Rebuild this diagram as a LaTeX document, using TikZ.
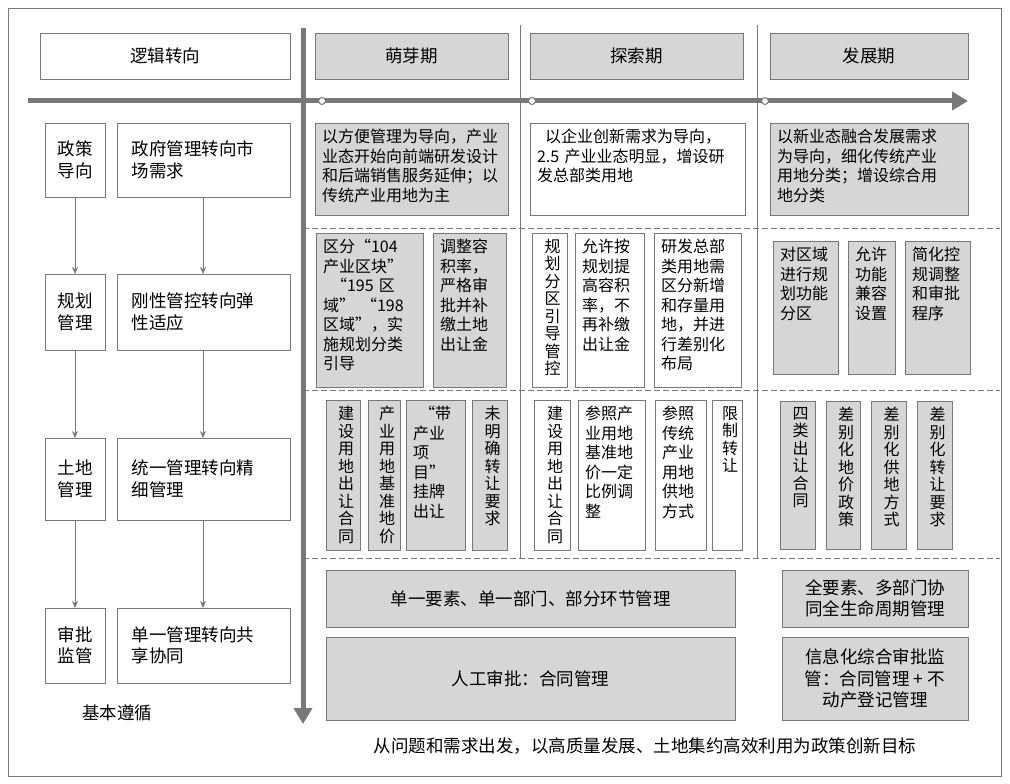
\documentclass[tikz,border=0pt]{standalone}
\usepackage{fontspec}
\setmainfont{Noto Sans CJK SC}
\XeTeXlinebreaklocale "zh"
\XeTeXlinebreakskip=0pt plus 1pt
\usetikzlibrary{arrows.meta}
\definecolor{boxgray}{RGB}{214,214,214}
\definecolor{linegray}{RGB}{120,120,120}
\tikzset{
  wbox/.style={draw=linegray,fill=white,line width=0.9pt},
  gbox/.style={draw=linegray,fill=boxgray,line width=0.9pt},
  txt/.style={anchor=north,inner sep=0pt,align=left,font=\fontsize{16}{19.5}\selectfont},
  vtxt/.style={anchor=north,inner sep=0pt,align=center,text width=1em,font=\fontsize{16}{17.5}\selectfont},
  ctxt/.style={inner sep=0pt,align=center,font=\fontsize{17.5}{21.5}\selectfont},
  flow/.style={draw=linegray,line width=0.8pt,-{Stealth[length=7pt,width=6pt]}},
  mainarrow/.style={draw=linegray,line width=5pt,-{Triangle[length=16pt,width=18pt]}},
  sep/.style={draw=linegray,line width=0.9pt,dash pattern=on 6pt off 3pt},
}
% text box, text at top
\newcommand\topbox[7]{%
  \draw[#6] (#2,#3) rectangle (#4,#5);
  \pgfmathsetmacro\tw{#4-#2-14}
  \node[txt,text width=\tw pt] (#1) at ({(#2+#4)/2},{#3+6}) {#7};}
% vertical text box
\newcommand\upbox[7]{%
  \draw[#6] (#2,#3) rectangle (#4,#5);
  \node[vtxt] (#1) at ({(#2+#4)/2},{#3+6}) {#7};}
% centred text box
\newcommand\midbox[7]{%
  \draw[#6] (#2,#3) rectangle (#4,#5);
  \node[ctxt] (#1) at ({(#2+#4)/2},{(#3+#5)/2}) {#7};}
\begin{document}
\begin{tikzpicture}[x=1pt,y=-1pt]
\useasboundingbox (0,0) rectangle (1010,784);
\draw[linegray,line width=0.9pt] (8,8) rectangle (1001,776);

% headers
\midbox{head-logic}{40}{33}{290}{79}{wbox}{逻辑转向}
\midbox{head-1}{315}{33}{508}{79}{gbox}{萌芽期}
\midbox{head-2}{530}{33}{743}{79}{gbox}{探索期}
\midbox{head-3}{770}{33}{968}{79}{gbox}{发展期}

% separators
\draw[linegray,line width=0.9pt] (520,25) -- (520,558);
\draw[linegray,line width=0.9pt] (757,25) -- (757,558);
\draw[sep] (303,228) -- (1000,228);
\draw[sep] (303,390) -- (1000,390);
\draw[sep] (303,558) -- (1000,558);
\draw[mainarrow] (28,101) -- (968,101);
\draw[mainarrow] (303,28) -- (303,724);
\foreach \x in {322,532,765}
  \draw[linegray,fill=white,line width=1pt] (\x,101) circle (3.5pt);

% left column
\midbox{policy}{45}{123}{105}{197}{wbox}{政策\\导向}
\midbox{planning}{45}{274}{105}{350}{wbox}{规划\\管理}
\midbox{land}{45}{438}{105}{520}{wbox}{土地\\管理}
\midbox{approval}{45}{608}{105}{683}{wbox}{审批\\监管}
\midbox{policy-shift}{117}{123}{290}{197}{wbox}{\makebox[144pt][l]{政府管理转向市}\\\makebox[144pt][l]{场需求}}
\midbox{planning-shift}{117}{274}{290}{350}{wbox}{\makebox[144pt][l]{刚性管控转向弹}\\\makebox[144pt][l]{性适应}}
\midbox{land-shift}{117}{438}{290}{520}{wbox}{\makebox[144pt][l]{统一管理转向精}\\\makebox[144pt][l]{细管理}}
\midbox{approval-shift}{117}{608}{290}{683}{wbox}{\makebox[144pt][l]{单一管理转向共}\\\makebox[144pt][l]{享协同}}
\draw[flow] (75,197) -- (75,274);
\draw[flow] (75,350) -- (75,438);
\draw[flow] (75,520) -- (75,608);
\draw[flow] (203,197) -- (203,274);
\draw[flow] (203,350) -- (203,438);
\draw[flow] (203,520) -- (203,608);
\node[ctxt] (basis) at (117,713) {基本遵循};

% row 1: policy orientation
\topbox{orient-1}{315}{123}{508}{215}{gbox}{以方便管理为导向，产业\\业态开始向前端研发设计\\和后端销售服务延伸；以\\传统产业用地为主}
\topbox{orient-2}{530}{123}{745}{215}{wbox}{\hspace*{8pt}以企业创新需求为导向，\\2.5 产业业态明显，增设研\\发总部类用地}
\topbox{orient-3}{770}{123}{968}{215}{gbox}{以新业态融合发展需求\\为导向，细化传统产业\\用地分类；增设综合用\\地分类}

% row 2: planning
\topbox{plan-1a}{316}{233}{423}{387}{gbox}{区分“104\\产业区块”\\\hspace*{8pt}“195 区\\域”\hspace{6pt}“198\\区域”，实\\施规划分类\\引导}
\topbox{plan-1b}{433}{233}{506}{387}{gbox}{调整容\\积率，\\严格审\\批并补\\缴土地\\出让金}
\upbox{plan-2a}{532}{233}{567}{387}{wbox}{规划分区引导管控}
\topbox{plan-2b}{575}{233}{644}{387}{wbox}{允许按\\规划提\\高容积\\率，不\\再补缴\\出让金}
\topbox{plan-2c}{654}{233}{741}{387}{wbox}{研发总部\\类用地需\\区分新增\\和存量用\\地，并进\\行差别化\\布局}
\topbox{plan-3a}{773}{241}{838}{374}{gbox}{对区域\\进行规\\划功能\\分区}
\topbox{plan-3b}{848}{241}{895}{374}{gbox}{允许\\功能\\兼容\\设置}
\topbox{plan-3c}{905}{241}{970}{374}{gbox}{简化控\\规调整\\和审批\\程序}

% row 3: land
\upbox{land-1a}{326}{400}{360}{550}{gbox}{建设用地出让合同}
\upbox{land-1b}{368}{400}{400}{550}{gbox}{产业用地基准地价}
\topbox{land-1c}{406}{400}{465}{550}{gbox}{\hspace*{6pt}“带\\产业\\项目”\\挂牌\\出让}
\upbox{land-1d}{472}{400}{507}{550}{gbox}{未明确转让要求}
\upbox{land-2a}{534}{400}{570}{550}{wbox}{建设用地出让合同}
\topbox{land-2b}{578}{400}{645}{550}{wbox}{参照产\\业用地\\基准地\\价一定\\比例调\\整}
\topbox{land-2c}{655}{400}{706}{550}{wbox}{参照\\传统\\产业\\用地\\供地\\方式}
\upbox{land-2d}{712}{400}{742}{550}{wbox}{限制转让}
\upbox{land-3a}{780}{401}{815}{549}{gbox}{四类出让合同}
\upbox{land-3b}{826}{401}{860}{549}{gbox}{差别化地价政策}
\upbox{land-3c}{871}{401}{906}{549}{gbox}{差别化供地方式}
\upbox{land-3d}{917}{401}{952}{549}{gbox}{差别化转让要求}

% row 4: approval
\midbox{appr-1a}{326}{570}{735}{627}{gbox}{单一要素、单一部门、部分环节管理}
\midbox{appr-1b}{326}{637}{735}{720}{gbox}{人工审批：合同管理}
\midbox{appr-3a}{782}{570}{968}{627}{gbox}{全要素、多部门协\\同全生命周期管理}
\midbox{appr-3b}{782}{637}{968}{720}{gbox}{信息化综合审批监\\管：合同管理 + 不\\动产登记管理}

\node[ctxt] (goal) at (645,746) {从问题和需求出发，以高质量发展、土地集约高效利用为政策创新目标};
\end{tikzpicture}
\end{document}
